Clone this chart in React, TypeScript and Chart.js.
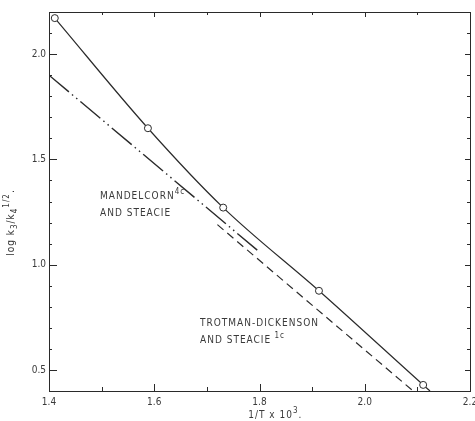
import React, { useEffect, useRef } from "react";
import { Chart, registerables } from "chart.js";
Chart.register(...registerables);

// measured points (open circles)
const pointX = [1.411, 1.588, 1.731, 1.913, 2.111];
const pointY = [2.171, 1.648, 1.271, 0.876, 0.429];
// smooth curve through the points, ending on the axis
const curveX = [1.411, 1.588, 1.731, 1.913, 2.111, 2.124];
const curveY = [2.171, 1.648, 1.271, 0.876, 0.429, 0.4];
// Mandelcorn and Steacie (dash-dot)
const mandelX = [1.4, 1.8];
const mandelY = [1.9, 1.06];
// Trotman-Dickenson and Steacie (dashed)
const trotX = [1.72, 2.092];
const trotY = [1.19, 0.4];
// axes
const xMin = 1.4, xMax = 2.2, yMin = 0.4, yMax = 2.2;
const xTickValues = [1.4, 1.5, 1.6, 1.7, 1.8, 1.9, 2.0, 2.1, 2.2];
const xLabelValues = [1.4, 1.6, 1.8, 2.0, 2.2];
const yTickValues = [0.4, 0.5, 0.6, 0.7, 0.8, 0.9, 1.0, 1.1, 1.2, 1.3, 1.4, 1.5, 1.6, 1.7, 1.8, 1.9, 2.0, 2.1, 2.2];
const yLabelValues = [0.5, 1.0, 1.5, 2.0];

const INK = "#2a2a2a";
const TEXT = "#3a3a3a";
const FONT = "'Liberation Sans Narrow', 'DejaVu Sans Condensed', 'Liberation Sans', sans-serif";

const pairs = (xs: number[], ys: number[]) => xs.map((x, i) => ({ x, y: ys[i] }));
const isIn = (v: number, list: number[]) => list.some((l) => Math.abs(l - v) < 1e-6);

type Seg = { t: string; size: number; dy: number };
function drawSegs(ctx: CanvasRenderingContext2D, segs: Seg[], x: number, y: number, align: "left" | "center") {
  let total = 0;
  for (const s of segs) {
    ctx.font = `${s.size}px ${FONT}`;
    total += ctx.measureText(s.t).width;
  }
  let cx = align === "center" ? x - total / 2 : x;
  for (const s of segs) {
    ctx.font = `${s.size}px ${FONT}`;
    ctx.fillText(s.t, cx, y + s.dy);
    cx += ctx.measureText(s.t).width;
  }
}

const framePlugin = {
  id: "frame",
  afterDatasetsDraw(chart: any) {
    const { ctx, chartArea: a, scales } = chart;
    const xs = scales.x, ys = scales.y;
    ctx.save();
    ctx.strokeStyle = INK;
    ctx.lineWidth = 1;
    ctx.strokeRect(a.left + 0.5, a.top + 0.5, a.right - a.left, a.bottom - a.top);
    ctx.beginPath();
    for (const v of xTickValues) {
      const px = Math.round(xs.getPixelForValue(v)) + 0.5;
      const major = isIn(v, xLabelValues);
      const len = major ? 7 : 4;
      ctx.moveTo(px, a.bottom);
      ctx.lineTo(px, a.bottom - len);
      ctx.moveTo(px, a.top);
      ctx.lineTo(px, a.top + (major ? 5 : 3));
    }
    for (const v of yTickValues) {
      const py = Math.round(ys.getPixelForValue(v)) + 0.5;
      const major = isIn(v, yLabelValues);
      const len = major ? 8 : 3;
      ctx.moveTo(a.left, py);
      ctx.lineTo(a.left + len, py);
      ctx.moveTo(a.right, py);
      ctx.lineTo(a.right - (major ? 5 : 3), py);
    }
    ctx.stroke();

    ctx.fillStyle = TEXT;
    ctx.textBaseline = "alphabetic";
    (ctx as any).letterSpacing = "1px";
    // curve annotations
    const mx = xs.getPixelForValue(1.497);
    const my = ys.getPixelForValue(1.31);
    drawSegs(ctx, [{ t: "MANDELCORN", size: 10, dy: 0 }, { t: "4c", size: 8, dy: -5 }], mx, my, "left");
    drawSegs(ctx, [{ t: "AND STEACIE", size: 10, dy: 0 }], mx, my + 17, "left");
    const tx = xs.getPixelForValue(1.687);
    const ty = ys.getPixelForValue(0.71);
    drawSegs(ctx, [{ t: "TROTMAN-DICKENSON", size: 10, dy: 0 }], tx, ty, "left");
    drawSegs(ctx, [{ t: "AND STEACIE", size: 10, dy: 0 }, { t: " 1c", size: 8, dy: -5 }], tx, ty + 17, "left");

    // x title
    const xt = xs.getPixelForValue(1.83);
    drawSegs(ctx, [{ t: "1/T x 10", size: 10, dy: 0 }, { t: "3", size: 8, dy: -5 }, { t: ".", size: 10, dy: 0 }], xt, a.bottom + 27, "center");
    // y title (rotated)
    ctx.translate(14, ys.getPixelForValue(1.2));
    ctx.rotate(-Math.PI / 2);
    drawSegs(
      ctx,
      [
        { t: "log k", size: 10, dy: 0 },
        { t: "3", size: 8, dy: 3 },
        { t: "/k", size: 10, dy: 0 },
        { t: "4", size: 8, dy: 3 },
        { t: "1/2", size: 8, dy: -5 },
        { t: ".", size: 10, dy: 0 },
      ],
      0,
      0,
      "center"
    );
    ctx.restore();
  },
};

export default function App() {
  const ref = useRef<HTMLCanvasElement | null>(null);
  useEffect(() => {
    document.body.style.margin = "0";
    const canvas = ref.current;
    if (!canvas) return;
    const chart = new Chart(canvas, {
      type: "scatter",
      data: {
        datasets: [
          {
            data: pairs(pointX, pointY),
            showLine: false,
            pointRadius: 3.5,
            pointBackgroundColor: "#ffffff",
            pointBorderColor: INK,
            pointBorderWidth: 1,
          },
          {
            data: pairs(curveX, curveY),
            showLine: true,
            pointRadius: 0,
            borderColor: INK,
            borderWidth: 1.2,
            cubicInterpolationMode: "monotone",
          },
          {
            data: pairs(mandelX, mandelY),
            showLine: true,
            pointRadius: 0,
            borderColor: INK,
            borderWidth: 1.4,
            borderDash: [26, 4, 1.5, 4, 1.5, 4],
          },
          {
            data: pairs(trotX, trotY),
            showLine: true,
            pointRadius: 0,
            borderColor: INK,
            borderWidth: 1.2,
            borderDash: [8, 5],
          },
        ] as any,
      },
      options: {
        animation: false,
        responsive: false,
        layout: { padding: { top: 12, right: 3, left: 0, bottom: 0 } },
        plugins: { legend: { display: false }, tooltip: { enabled: false } },
        scales: {
          x: {
            type: "linear",
            min: xMin,
            max: xMax,
            afterBuildTicks: (s: any) => {
              s.ticks = xTickValues.map((v) => ({ value: v }));
            },
            afterFit: (s: any) => {
              s.height = 30;
              s.paddingLeft = 0;
              s.paddingRight = 0;
            },
            grid: { display: false, drawTicks: false },
            border: { display: false },
            ticks: {
              autoSkip: false,
              maxRotation: 0,
              padding: 5,
              color: TEXT,
              font: { family: FONT, size: 10 },
              callback: (v: any) => (isIn(Number(v), xLabelValues) ? Number(v).toFixed(1) : ""),
            },
          },
          y: {
            type: "linear",
            min: yMin,
            max: yMax,
            afterBuildTicks: (s: any) => {
              s.ticks = yTickValues.map((v) => ({ value: v }));
            },
            afterFit: (s: any) => {
              s.width = 49;
              s.paddingTop = 0;
              s.paddingBottom = 0;
            },
            grid: { display: false, drawTicks: false },
            border: { display: false },
            ticks: {
              autoSkip: false,
              padding: 3,
              color: TEXT,
              font: { family: FONT, size: 10 },
              callback: (v: any) => (isIn(Number(v), yLabelValues) ? Number(v).toFixed(1) : ""),
            },
          },
        },
      } as any,
      plugins: [framePlugin],
    });
    return () => chart.destroy();
  }, []);
  return (
    <div style={{ width: 475, height: 421, background: "#fff" }}>
      <canvas ref={ref} width={475} height={421} style={{ display: "block" }} />
    </div>
  );
}
